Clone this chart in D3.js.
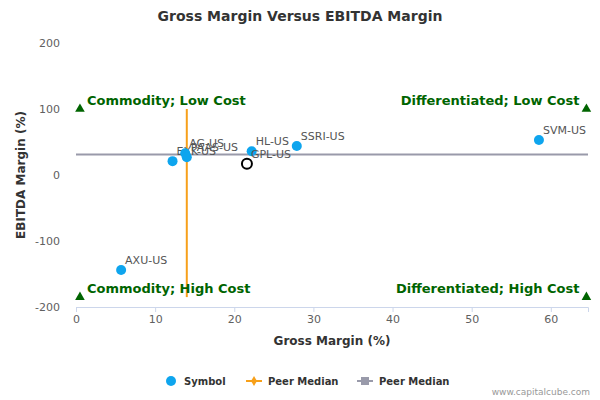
<!DOCTYPE html><html><head><meta charset="utf-8"><script src="https://d3js.org/d3.v7.min.js"></script>
<style>body{margin:0;background:#fff}text{font-family:"DejaVu Sans",sans-serif}</style></head><body><svg id="c" width="600" height="400"></svg>
<script>
const symbols=["EXK-US","AG-US","PAAS-US","HL-US","SSRI-US","SVM-US","AXU-US"];
const grossMargin=[12.2,13.8,14.0,22.2,27.9,58.5,5.7];
const ebitdaMargin=[21,33,27,36,44,53,-144];
const peer={name:"GPL-US",x:21.6,y:17};
const medianX=14,medianY=31;
const xTicks=[0,10,20,30,40,50,60],yTicks=[-200,-100,0,100,200];
const quadrants=["Commodity; Low Cost","Differentiated; Low Cost","Commodity; High Cost","Differentiated; High Cost"];
const svg=d3.select("#c");
const x=d3.scaleLinear().domain([0,64.7]).range([76,588]);
const y=d3.scaleLinear().domain([-200,200]).range([307,43]);
svg.append("text").attr("x",300).attr("y",21).attr("text-anchor","middle").attr("font-size",14).attr("font-weight","bold").attr("fill","#333").text("Gross Margin Versus EBITDA Margin");
const xa=svg.append("g").attr("transform","translate(0,307)").call(d3.axisBottom(x).tickValues(xTicks).tickSize(5));
xa.select(".domain").attr("stroke","#ccd6eb");xa.selectAll("line").attr("stroke","#ccd6eb");xa.selectAll("text").attr("fill","#606060").attr("font-size",11);
yTicks.forEach(t=>svg.append("text").attr("x",60).attr("y",y(t)+4).attr("text-anchor","end").attr("font-size",11).attr("fill","#606060").text(t));
svg.append("text").attr("x",332).attr("y",345).attr("text-anchor","middle").attr("font-size",12).attr("font-weight","bold").attr("fill","#333").text("Gross Margin (%)");
svg.append("text").attr("transform","translate(25,175) rotate(-90)").attr("text-anchor","middle").attr("font-size",12).attr("font-weight","bold").attr("fill","#333").text("EBITDA Margin (%)");
svg.append("line").attr("x1",x(0)).attr("x2",588).attr("y1",y(medianY)).attr("y2",y(medianY)).attr("stroke","#999aaa").attr("stroke-width",2);
svg.append("line").attr("x1",x(medianX)).attr("x2",x(medianX)).attr("y1",y(100)).attr("y2",y(-185)).attr("stroke","#f7a01a").attr("stroke-width",2);
const tri=d3.symbol().type(d3.symbolTriangle).size(40);
const qpos=[[0.5,100,"start"],[64.5,100,"end"],[0.5,-185,"start"],[64.5,-185,"end"]];
qpos.forEach((q,i)=>{svg.append("path").attr("d",tri).attr("fill","#006400").attr("transform",`translate(${x(q[0])},${y(q[1])})`);
svg.append("text").attr("x",q[2]=="start"?x(q[0])+7:x(q[0])-7).attr("y",y(q[1])-4).attr("text-anchor",q[2]).attr("font-size",13).attr("font-weight","bold").attr("fill","#006400").text(quadrants[i]);});
symbols.forEach((s,i)=>{svg.append("circle").attr("cx",x(grossMargin[i])).attr("cy",y(ebitdaMargin[i])).attr("r",5).attr("fill","#0ea5ee");
svg.append("text").attr("x",x(grossMargin[i])+4).attr("y",y(ebitdaMargin[i])-6).attr("font-size",11).attr("fill","#555").text(s);});
svg.append("circle").attr("cx",x(peer.x)).attr("cy",y(peer.y)).attr("r",5).attr("fill","none").attr("stroke","#000").attr("stroke-width",2);
svg.append("text").attr("x",x(peer.x)+4).attr("y",y(peer.y)-6).attr("font-size",11).attr("fill","#555").text(peer.name);
const lg=svg.append("g").attr("font-size",10).attr("font-weight","bold").attr("fill","#333");
lg.append("circle").attr("cx",171).attr("cy",381).attr("r",5).attr("fill","#0ea5ee");
lg.append("text").attr("x",184).attr("y",385).text("Symbol");
lg.append("line").attr("x1",246).attr("x2",262).attr("y1",381).attr("y2",381).attr("stroke","#f7a01a").attr("stroke-width",2);
lg.append("path").attr("d",d3.symbol().type(d3.symbolDiamond).size(30)).attr("fill","#f7a01a").attr("transform","translate(254,381)");
lg.append("text").attr("x",268).attr("y",385).text("Peer Median");
lg.append("line").attr("x1",357).attr("x2",373).attr("y1",381).attr("y2",381).attr("stroke","#999aaa").attr("stroke-width",2);
lg.append("rect").attr("x",361).attr("y",377).attr("width",8).attr("height",8).attr("fill","#999aaa");
lg.append("text").attr("x",379).attr("y",385).text("Peer Median");
svg.append("text").attr("x",590).attr("y",395).attr("text-anchor","end").attr("font-size",9).attr("fill","#999").text("www.capitalcube.com");
</script></body></html>
